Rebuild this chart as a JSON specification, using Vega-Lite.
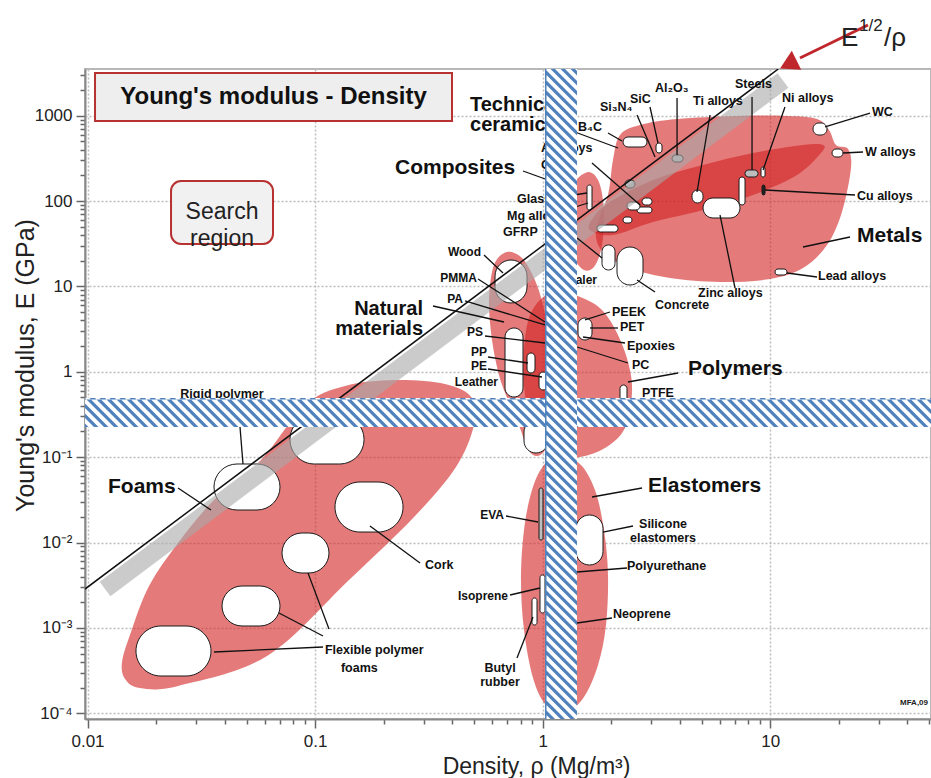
{
"$schema": "https://vega.github.io/schema/vega-lite/v6.json",
"width": 846, "height": 650,
"autosize": {"type": "none"},
"padding": {"left": 85, "top": 69, "right": 0, "bottom": 59},
"background": "white",
"config": {"view": {"stroke": "#b8b8b8", "strokeWidth": 2}, "font": "Liberation Sans", "axis": {"labelFont": "Liberation Sans", "titleFont": "Liberation Sans"}},
"datasets": {
"env": [
{"g":"Foams","i":1,"rho":0.01462,"E":0.0002523},{"g":"Foams","i":2,"rho":0.01701,"E":0.0001977},{"g":"Foams","i":3,"rho":0.02498,"E":0.0002089},{"g":"Foams","i":4,"rho":0.06148,"E":0.000469},{"g":"Foams","i":5,"rho":0.1409,"E":0.00364},{"g":"Foams","i":6,"rho":0.272,"E":0.01991},{"g":"Foams","i":7,"rho":0.4159,"E":0.07674},{"g":"Foams","i":8,"rho":0.4989,"E":0.2381},{"g":"Foams","i":9,"rho":0.4891,"E":0.4933},{"g":"Foams","i":10,"rho":0.3722,"E":0.7198},{"g":"Foams","i":11,"rho":0.2244,"E":0.8014},{"g":"Foams","i":12,"rho":0.1353,"E":0.6819},{"g":"Foams","i":13,"rho":0.0903,"E":0.4086},{"g":"Foams","i":14,"rho":0.05785,"E":0.09265},{"g":"Foams","i":15,"rho":0.03595,"E":0.0315},{"g":"Foams","i":16,"rho":0.02498,"E":0.009876},{"g":"Foams","i":17,"rho":0.01863,"E":0.003097},{"g":"Foams","i":18,"rho":0.01553,"E":0.000895},{"g":"Foams","i":19,"rho":0.01418,"E":0.000399},
{"g":"Natural","i":1,"rho":0.6967,"E":25.31},{"g":"Natural","i":2,"rho":0.8111,"E":21.53},{"g":"Natural","i":3,"rho":0.916,"E":12.55},{"g":"Natural","i":4,"rho":1.003,"E":6.06},{"g":"Natural","i":5,"rho":1.077,"E":2.06},{"g":"Natural","i":6,"rho":1.11,"E":0.6118},{"g":"Natural","i":7,"rho":1.088,"E":0.2081},{"g":"Natural","i":8,"rho":1.024,"E":0.1213},{"g":"Natural","i":9,"rho":0.9346,"E":0.1032},{"g":"Natural","i":10,"rho":0.8531,"E":0.1281},{"g":"Natural","i":11,"rho":0.7946,"E":0.2197},{"g":"Natural","i":12,"rho":0.7037,"E":0.4674},{"g":"Natural","i":13,"rho":0.6427,"E":0.9174},{"g":"Natural","i":14,"rho":0.5987,"E":2.358},{"g":"Natural","i":15,"rho":0.5808,"E":6.934},{"g":"Natural","i":16,"rho":0.6109,"E":17.82},
{"g":"Polymers","i":1,"rho":1.191,"E":8.842},{"g":"Polymers","i":2,"rho":1.534,"E":7.124},{"g":"Polymers","i":3,"rho":1.84,"E":5.155},{"g":"Polymers","i":4,"rho":2.121,"E":2.848},{"g":"Polymers","i":5,"rho":2.371,"E":1.302},{"g":"Polymers","i":6,"rho":2.469,"E":0.5799},{"g":"Polymers","i":7,"rho":2.299,"E":0.2197},{"g":"Polymers","i":8,"rho":1.878,"E":0.1281},{"g":"Polymers","i":9,"rho":1.458,"E":0.1005},{"g":"Polymers","i":10,"rho":1.168,"E":0.106},{"g":"Polymers","i":11,"rho":0.973,"E":0.1589},{"g":"Polymers","i":12,"rho":0.8705,"E":0.3119},{"g":"Polymers","i":13,"rho":0.8277,"E":0.7003},{"g":"Polymers","i":14,"rho":0.8277,"E":1.8},{"g":"Polymers","i":15,"rho":0.8705,"E":4.268},{"g":"Polymers","i":16,"rho":0.9929,"E":7.318},
{"g":"Elastomers","i":1,"rho":1.191,"E":0.1005},{"g":"Elastomers","i":2,"rho":1.458,"E":0.08318},{"g":"Elastomers","i":3,"rho":1.697,"E":0.04124},{"g":"Elastomers","i":4,"rho":1.859,"E":0.01402},{"g":"Elastomers","i":5,"rho":1.936,"E":0.004167},{"g":"Elastomers","i":6,"rho":1.897,"E":0.001082},{"g":"Elastomers","i":7,"rho":1.75,"E":0.0003677},{"g":"Elastomers","i":8,"rho":1.518,"E":0.0001551},{"g":"Elastomers","i":9,"rho":1.253,"E":0.0001008},{"g":"Elastomers","i":10,"rho":1.034,"E":0.000125},{"g":"Elastomers","i":11,"rho":0.9066,"E":0.000259},{"g":"Elastomers","i":12,"rho":0.8277,"E":0.0009452},{"g":"Elastomers","i":13,"rho":0.8027,"E":0.00364},{"g":"Elastomers","i":14,"rho":0.8277,"E":0.01402},{"g":"Elastomers","i":15,"rho":0.8974,"E":0.04124},{"g":"Elastomers","i":16,"rho":1.013,"E":0.08097},
{"g":"Composites","i":1,"rho":1.581,"E":218.9},{"g":"Composites","i":2,"rho":1.75,"E":176.5},{"g":"Composites","i":3,"rho":1.84,"E":102.9},{"g":"Composites","i":4,"rho":1.859,"E":52.44},{"g":"Composites","i":5,"rho":1.804,"E":26.71},{"g":"Composites","i":6,"rho":1.68,"E":16.89},{"g":"Composites","i":7,"rho":1.518,"E":15.58},{"g":"Composites","i":8,"rho":1.372,"E":21.53},{"g":"Composites","i":9,"rho":1.292,"E":40.04},{"g":"Composites","i":10,"rho":1.292,"E":89.93},{"g":"Composites","i":11,"rho":1.372,"E":162.8},
{"g":"Metals","i":1,"rho":2.186,"E":594},{"g":"Metals","i":2,"rho":2.676,"E":778},{"g":"Metals","i":3,"rho":3.892,"E":914.7},{"g":"Metals","i":4,"rho":7.141,"E":991.8},{"g":"Metals","i":5,"rho":11.84,"E":991.8},{"g":"Metals","i":6,"rho":16.04,"E":914.7},{"g":"Metals","i":7,"rho":18.11,"E":679.8},{"g":"Metals","i":8,"rho":19.44,"E":453.6},{"g":"Metals","i":9,"rho":21.95,"E":407.2},{"g":"Metals","i":10,"rho":22.62,"E":243.9},{"g":"Metals","i":11,"rho":20.65,"E":74.45},{"g":"Metals","i":12,"rho":17.75,"E":30.57},{"g":"Metals","i":13,"rho":13.92,"E":16.44},{"g":"Metals","i":14,"rho":9.97,"E":12.22},{"g":"Metals","i":15,"rho":6.012,"E":11.27},{"g":"Metals","i":16,"rho":3.625,"E":12.55},{"g":"Metals","i":17,"rho":2.419,"E":16.44},{"g":"Metals","i":18,"rho":1.84,"E":25.31},{"g":"Metals","i":19,"rho":1.715,"E":45.81},{"g":"Metals","i":20,"rho":1.936,"E":117.8},{"g":"Metals","i":21,"rho":2.036,"E":302.7},
{"g":"MetalAlloys","i":1,"rho":1.614,"E":45.81},{"g":"MetalAlloys","i":2,"rho":2.032,"E":40.04},{"g":"MetalAlloys","i":3,"rho":3.055,"E":56.84},{"g":"MetalAlloys","i":4,"rho":5.061,"E":78.59},{"g":"MetalAlloys","i":5,"rho":8.395,"E":117.8},{"g":"MetalAlloys","i":6,"rho":13.1,"E":202},{"g":"MetalAlloys","i":7,"rho":16.7,"E":365.6},{"g":"MetalAlloys","i":8,"rho":17.04,"E":453.6},{"g":"MetalAlloys","i":9,"rho":13.92,"E":453.6},{"g":"MetalAlloys","i":10,"rho":8.395,"E":365.6},{"g":"MetalAlloys","i":11,"rho":5.061,"E":264.5},{"g":"MetalAlloys","i":12,"rho":3.055,"E":176.5},{"g":"MetalAlloys","i":13,"rho":1.975,"E":97.5},{"g":"MetalAlloys","i":14,"rho":1.663,"E":63.34}
],
"bub": [
{"name":"Flexible foam A","rho":0.01633,"rho2":0.03488,"E":0.0002733,"E2":0.001053,"tone":"open"},
{"name":"Flexible foam B","rho":0.03899,"rho2":0.07011,"E":0.001053,"E2":0.003097,"tone":"open"},
{"name":"Flexible foam C","rho":0.07154,"rho2":0.1151,"E":0.004396,"E2":0.01293,"tone":"open"},
{"name":"Cork","rho":0.1223,"rho2":0.2434,"E":0.01328,"E2":0.05118,"tone":"open"},
{"name":"Rigid foam A","rho":0.03595,"rho2":0.07011,"E":0.02405,"E2":0.08318,"tone":"open"},
{"name":"Rigid foam B","rho":0.07757,"rho2":0.164,"E":0.08318,"E2":0.3119,"tone":"open"},
{"name":"Wood","rho":0.6173,"rho2":0.8532,"E":6.396,"E2":20.4,"tone":"open"},
{"name":"PS","rho":0.683,"rho2":0.8193,"E":0.5068,"E2":3.26,"tone":"open"},
{"name":"PP","rho":0.8532,"rho2":0.925,"E":0.9681,"E2":1.661,"tone":"open"},
{"name":"PE","rho":0.9634,"rho2":1.0445,"E":0.6119,"E2":0.9946,"tone":"open"},
{"name":"Leather","rho":0.8277,"rho2":1.0551,"E":0.1119,"E2":0.2725,"tone":"open"},
{"name":"PET","rho":1.4293,"rho2":1.6467,"E":2.358,"E2":4.268,"tone":"open"},
{"name":"PTFE","rho":2.186,"rho2":2.346,"E":0.4428,"E2":0.7003,"tone":"open"},
{"name":"EVA","rho":0.9634,"rho2":1.0031,"E":0.01071,"E2":0.04355,"tone":"grey"},
{"name":"Silicone","rho":1.4007,"rho2":1.8406,"E":0.005457,"E2":0.02102,"tone":"open"},
{"name":"Isoprene","rho":0.9731,"rho2":1.0236,"E":0.001495,"E2":0.004167,"tone":"open"},
{"name":"Butyl","rho":0.8974,"rho2":0.9441,"E":0.001082,"E2":0.00224,"tone":"open"},
{"name":"B4C","rho":2.2533,"rho2":2.8727,"E":429.7,"E2":562.9,"tone":"open"},
{"name":"SiC","rho":3.1466,"rho2":3.3436,"E":365.6,"E2":478.7,"tone":"open"},
{"name":"Al2O3","rho":3.7008,"rho2":4.1364,"E":286.8,"E2":346.4,"tone":"grey"},
{"name":"Si3N4","rho":2.2994,"rho2":2.5442,"E":142.2,"E2":176.5,"tone":"grey"},
{"name":"Ti","rho":4.5297,"rho2":5.063,"E":94.9,"E2":134.8,"tone":"open"},
{"name":"Zinc","rho":5.063,"rho2":7.3613,"E":63.34,"E2":108.6,"tone":"open"},
{"name":"Cast iron","rho":7.2875,"rho2":7.7431,"E":89.92,"E2":191.3,"tone":"open"},
{"name":"Steels","rho":7.7431,"rho2":8.8316,"E":191.3,"E2":231.1,"tone":"grey"},
{"name":"Ni","rho":9.1039,"rho2":9.4797,"E":191.3,"E2":250.6,"tone":"open"},
{"name":"Cu","rho":9.1965,"rho2":9.4797,"E":117.8,"E2":154.2,"tone":"dark"},
{"name":"WC","rho":15.403,"rho2":17.749,"E":594,"E2":821.1,"tone":"open"},
{"name":"W","rho":18.669,"rho2":20.866,"E":328.2,"E2":407.2,"tone":"open"},
{"name":"Lead","rho":10.487,"rho2":11.837,"E":13.61,"E2":16.0,"tone":"open"},
{"name":"Al alloys","rho":2.7309,"rho2":3.0217,"E":89.92,"E2":108.6,"tone":"open"},
{"name":"CFRP","rho":2.5962,"rho2":3.0217,"E":72.46,"E2":85.19,"tone":"open"},
{"name":"Mg alloys","rho":2.3464,"rho2":2.6762,"E":78.59,"E2":97.5,"tone":"open"},
{"name":"GFRP","rho":2.2533,"rho2":2.4682,"E":55.34,"E2":65.06,"tone":"open"},
{"name":"Glass","rho":1.7322,"rho2":2.1421,"E":43.41,"E2":52.44,"tone":"open"},
{"name":"Stone","rho":1.8221,"rho2":2.0781,"E":15.58,"E2":30.57,"tone":"open"},
{"name":"Concrete","rho":2.1206,"rho2":2.7587,"E":10.39,"E2":28.96,"tone":"open"},
{"name":"Composite fibre","rho":1.5655,"rho2":1.6467,"E":78.59,"E2":154.2,"tone":"open"}
],
"band": [{"rho":0.01194,"E":0.002851},{"rho":11.37,"E":2586}],
"guide": [{"rho":0.00975,"E":0.002852},{"rho":10.84,"E":3525}],
"lead": [
{"rho":0.8193,"E":224.9,"rho2":1.0551,"E2":176.5},
{"rho":0.3296,"E":5.899,"rho2":0.6761,"E2":3.831},
{"rho":0.5522,"E":23.35,"rho2":0.6693,"E2":14.37},
{"rho":0.5197,"E":12.22,"rho2":1.0236,"E2":3.831},
{"rho":0.4557,"E":6.751,"rho2":1.0236,"E2":3.534},
{"rho":0.5578,"E":2.627,"rho2":1.0236,"E2":2.175},
{"rho":0.575,"E":1.491,"rho2":0.8618,"E2":1.268},
{"rho":0.575,"E":1.078,"rho2":0.993,"E2":0.8692},
{"rho":1.9755,"E":5.017,"rho2":1.5341,"E2":4.045},
{"rho":2.1421,"E":3.26,"rho2":1.6137,"E2":3.26},
{"rho":2.2994,"E":2.175,"rho2":1.5034,"E2":2.557},
{"rho":2.3703,"E":1.268,"rho2":1.4149,"E2":1.952},
{"rho":3.9325,"E":0.9681,"rho2":2.3703,"E2":0.7595},
{"rho":22.398,"E":37.94,"rho2":13.92,"E2":28.96},
{"rho":16.039,"E":12.9,"rho2":11.837,"E2":14.37},
{"rho":23.559,"E":117.8,"rho2":9.4797,"E2":134.8},
{"rho":25.544,"E":375.5,"rho2":20.866,"E2":365.6},
{"rho":27.418,"E":1075,"rho2":17.393,"E2":737.4},
{"rho":6.9984,"E":9.585,"rho2":6.0117,"E2":68.66},
{"rho":3.115,"E":8.605,"rho2":2.5962,"E2":11.9},
{"rho":11.6,"E":1264,"rho2":9.29,"E2":231.1},
{"rho":8.3124,"E":1656,"rho2":8.3124,"E2":231.1},
{"rho":5.4334,"E":1019,"rho2":4.7648,"E2":127.7},
{"rho":3.893,"E":1612,"rho2":3.893,"E2":346.4},
{"rho":2.9611,"E":1264,"rho2":3.211,"E2":478.7},
{"rho":2.5962,"E":1019,"rho2":3.115,"E2":328.2},
{"rho":1.9362,"E":627.1,"rho2":2.2306,"E2":505.2},
{"rho":1.6467,"E":279.2,"rho2":2.6762,"E2":89.92},
{"rho":1.0551,"E":843.6,"rho2":2.1421,"E2":418.3},
{"rho":1.034,"E":105.7,"rho2":1.5655,"E2":124.3},
{"rho":1.034,"E":66.83,"rho2":1.5814,"E2":94.9},
{"rho":1.4149,"E":36.93,"rho2":1.8221,"E2":21.53},
{"rho":0.02498,"E":0.04355,"rho2":0.03488,"E2":0.02405},
{"rho":0.1742,"E":0.01562,"rho2":0.2891,"E2":0.005759},
{"rho":0.1151,"E":0.000971,"rho2":0.09307,"E2":0.004396},
{"rho":0.1083,"E":0.0008036,"rho2":0.0694,"E2":0.001495},
{"rho":0.1083,"E":0.0005975,"rho2":0.03595,"E2":0.000522},
{"rho":0.04678,"E":0.2256,"rho2":0.04822,"E2":0.08318},
{"rho":2.7309,"E":0.04355,"rho2":1.6467,"E2":0.03415},
{"rho":2.4933,"E":0.01562,"rho2":1.8406,"E2":0.01328},
{"rho":2.3464,"E":0.005031,"rho2":1.4149,"E2":0.004517},
{"rho":2.016,"E":0.001306,"rho2":1.4149,"E2":0.001142},
{"rho":0.6899,"E":0.02046,"rho2":0.9537,"E2":0.0174},
{"rho":0.7185,"E":0.002429,"rho2":0.9731,"E2":0.002934},
{"rho":0.7711,"E":0.0004442,"rho2":0.9065,"E2":0.001342}
],
"bigL": [
{"label":"Composites","rho":0.2244,"E":243.9},
{"label":"Polymers","rho":4.3503,"E":1.078},
{"label":"Metals","rho":24.041,"E":38.97},
{"label":"Foams","rho":0.012305,"E":0.04473},
{"label":"Elastomers","rho":2.9016,"E":0.04595}
],
"bigL2": [{"label":"Technical\nceramics","rho":0.4793,"E":1352}],
"bigR": [{"label":"Natural\nmaterials","rho":0.298,"E":5.368}],
"smL": [
{"label":"Glass","rho":0.7711,"E":105.7},
{"label":"Mg alloys","rho":0.697,"E":66.83},
{"label":"GFRP","rho":0.6693,"E":43.41},
{"label":"Al alloys","rho":0.983,"E":418.3},
{"label":"CFRP","rho":0.983,"E":264.5},
{"label":"PEEK","rho":2.016,"E":5.017},
{"label":"PET","rho":2.1859,"E":3.348},
{"label":"Epoxies","rho":2.3464,"E":2.005},
{"label":"PC","rho":2.4682,"E":1.201},
{"label":"PTFE","rho":2.7309,"E":0.5645},
{"label":"Concrete","rho":3.115,"E":6.06},
{"label":"Zinc alloys","rho":4.8133,"E":8.377},
{"label":"Lead alloys","rho":16.202,"E":13.25},
{"label":"Cu alloys","rho":24.041,"E":114.6},
{"label":"W alloys","rho":26.066,"E":375.5},
{"label":"WC","rho":27.978,"E":1105},
{"label":"Ni alloys","rho":11.254,"E":1612},
{"label":"Steels","rho":6.9984,"E":2351},
{"label":"Ti alloys","rho":4.5758,"E":1486},
{"label":"Al₂O₃","rho":3.115,"E":2111},
{"label":"SiC","rho":2.4188,"E":1569},
{"label":"Si₃N₄","rho":1.7855,"E":1264},
{"label":"B₄C","rho":1.4293,"E":737.4},
{"label":"Cork","rho":0.3041,"E":0.005457},
{"label":"Flexible polymer","rho":0.1105,"E":0.000551},
{"label":"foams","rho":0.1299,"E":0.0003391},
{"label":"Polyurethane","rho":2.3464,"E":0.005312},
{"label":"Neoprene","rho":2.0365,"E":0.001456}
],
"smR": [
{"label":"Wood","rho":0.5357,"E":25.31},
{"label":"PMMA","rho":0.5145,"E":12.55},
{"label":"PA","rho":0.4465,"E":7.124},
{"label":"PS","rho":0.5466,"E":2.925},
{"label":"PP","rho":0.5692,"E":1.706},
{"label":"PE","rho":0.5692,"E":1.169},
{"label":"Leather","rho":0.6363,"E":0.7595},
{"label":"Sealer","rho":1.7322,"E":11.9},
{"label":"EVA","rho":0.6761,"E":0.02102},
{"label":"Isoprene","rho":0.704,"E":0.002365}
],
"smC": [
{"label":"Rigid polymer","rho":0.03899,"E":0.5495},
{"label":"Butyl\nrubber","rho":0.6493,"E":0.0003346},
{"label":"Silicone\nelastomers","rho":3.3776,"E":0.01671}
],
"hb": [{"rho":0.005,"rho2":100,"E":0.2256,"E2":0.4933}],
"hbs": [{"rho":0.00975,"E":0.4933}],
"vb": [{"rho":1.0236,"rho2":1.4149,"E":0.00003,"E2":10000}],
"vbs": [{"rho":1.0236,"E":3523}],
"tbox": [{"rho":0.01079,"rho2":0.3995,"E":866.7,"E2":3163}],
"ttext": [{"label":"Young's modulus - Density","rho":0.06568,"E":1656}],
"sbox": [{"rho":0.02328,"rho2":0.06531,"E":31.41,"E2":171.8}],
"stext": [{"label":"Search\nregion","rho":0.03899,"E":73.45}],
"arrow": [{"rho":26.87,"E":11540,"rho2":13.5,"E2":4740}],
"head": [{"rho":12.33,"E":4142}],
"eBig": [{"label":"E","rho":20.45,"E":6551},{"label":"/ρ","rho":31.59,"E":6551}],
"eHalf": [{"label":"1/2","rho":24.53,"E":9818}],
"mfa": [{"label":"MFA,09","rho":37.14,"E":0.0001319}]
},
"encoding": {
"x": {"field": "rho", "type": "quantitative",
 "scale": {"type": "log", "domain": [0.00975, 50.82], "nice": false},
 "axis": {
  "values": [0.01,0.02,0.03,0.04,0.05,0.06,0.07,0.08,0.09,0.1,0.2,0.3,0.4,0.5,0.6,0.7,0.8,0.9,1,2,3,4,5,6,7,8,9,10,20,30,40,50],
  "labelExpr": "abs(log(datum.value)/LN10 - round(log(datum.value)/LN10)) > 0.01 ? '' : datum.value >= 1 ? format(datum.value, 'd') : format(datum.value, '.2~f')",
  "labelOverlap": false, "labelFlush": false, "labelBound": false,
  "labelFontSize": 17, "labelColor": "#222", "labelPadding": 5,
  "tickSize": {"condition": {"test": "abs(log(datum.value)/LN10 - round(log(datum.value)/LN10)) < 0.01", "value": 9}, "value": 5},
  "tickColor": "#666", "tickWidth": 1.5,
  "domainColor": "#888", "domainWidth": 2,
  "grid": true, "gridColor": "#bdbdbd", "gridDash": [2, 2], "gridWidth": 1.5,
  "gridOpacity": {"condition": {"test": "abs(log(datum.value)/LN10 - round(log(datum.value)/LN10)) < 0.01", "value": 1}, "value": 0},
  "title": "Density, ρ  (Mg/m³)", "titleFontSize": 23, "titleFontWeight": "normal", "titleColor": "#222",
  "titleX": 451, "titleY": 54, "titleAlign": "center", "titleBaseline": "alphabetic", "titleAngle": 0
 }},
"y": {"field": "E", "type": "quantitative",
 "scale": {"type": "log", "domain": [0.0000857, 3523], "nice": false},
 "axis": {
  "values": [0.0001,0.0002,0.0003,0.0004,0.0005,0.0006,0.0007,0.0008,0.0009,0.001,0.002,0.003,0.004,0.005,0.006,0.007,0.008,0.009,0.01,0.02,0.03,0.04,0.05,0.06,0.07,0.08,0.09,0.1,0.2,0.3,0.4,0.5,0.6,0.7,0.8,0.9,1,2,3,4,5,6,7,8,9,10,20,30,40,50,60,70,80,90,100,200,300,400,500,600,700,800,900,1000,2000,3000],
  "labelExpr": "abs(log(datum.value)/LN10 - round(log(datum.value)/LN10)) > 0.01 ? '' : datum.value >= 1 ? format(datum.value, 'd') : datum.value > 0.05 ? '10⁻¹' : datum.value > 0.005 ? '10⁻²' : datum.value > 0.0005 ? '10⁻³' : '10⁻⁴'",
  "labelOverlap": false, "labelFlush": false, "labelBound": false,
  "labelFontSize": 17, "labelColor": "#222", "labelPadding": 4,
  "tickSize": {"condition": {"test": "abs(log(datum.value)/LN10 - round(log(datum.value)/LN10)) < 0.01", "value": 9}, "value": 5},
  "tickColor": "#666", "tickWidth": 1.5,
  "domainColor": "#888", "domainWidth": 2,
  "grid": true, "gridColor": "#bdbdbd", "gridDash": [2, 2], "gridWidth": 1.5,
  "gridOpacity": {"condition": {"test": "abs(log(datum.value)/LN10 - round(log(datum.value)/LN10)) < 0.01", "value": 1}, "value": 0},
  "title": "Young's modulus, E (GPa)", "titleFontSize": 25, "titleFontWeight": "normal", "titleColor": "#222",
  "titleX": -60, "titleY": 296, "titleAlign": "center", "titleBaseline": "middle", "titleAngle": 270
 }}
},
"layer": [
{"data": {"name": "env"}, "mark": {"type": "line", "interpolate": "cardinal-closed", "fill": "#d22121", "fillOpacity": 0.6, "stroke": "#d22121", "strokeWidth": 0, "clip": true},
 "encoding": {"detail": {"field": "g"}, "order": {"field": "i", "type": "quantitative"}}},
{"data": {"name": "bub"}, "mark": {"type": "rect", "cornerRadius": 100, "stroke": "#1a1a1a", "strokeWidth": 1, "clip": true},
 "encoding": {"x2": {"field": "rho2"}, "y2": {"field": "E2"},
  "fill": {"field": "tone", "type": "nominal", "scale": {"domain": ["open", "grey", "dark"], "range": ["#ffffff", "#bdbdbd", "#222222"]}, "legend": null}}},
{"data": {"name": "band"}, "mark": {"type": "line", "color": "#a8a8a8", "strokeWidth": 18, "strokeCap": "butt", "opacity": 0.6, "clip": true}},
{"data": {"name": "guide"}, "mark": {"type": "line", "color": "#111111", "strokeWidth": 1.5, "clip": true}},
{"data": {"name": "lead"}, "mark": {"type": "rule", "color": "#111111", "strokeWidth": 1.3, "clip": true},
 "encoding": {"x2": {"field": "rho2"}, "y2": {"field": "E2"}}},
{"data": {"name": "bigL"}, "mark": {"type": "text", "align": "left", "baseline": "middle", "fontSize": 21, "fontWeight": "bold", "color": "#111111", "clip": true},
 "encoding": {"text": {"field": "label"}}},
{"data": {"name": "bigL2"}, "mark": {"type": "text", "align": "left", "baseline": "middle", "fontSize": 20, "fontWeight": "bold", "lineBreak": "\n", "lineHeight": 20, "color": "#111111", "clip": true},
 "encoding": {"text": {"field": "label"}}},
{"data": {"name": "bigR"}, "mark": {"type": "text", "align": "right", "baseline": "middle", "fontSize": 20, "fontWeight": "bold", "lineBreak": "\n", "lineHeight": 20, "color": "#111111", "clip": true},
 "encoding": {"text": {"field": "label"}}},
{"data": {"name": "smL"}, "mark": {"type": "text", "align": "left", "baseline": "middle", "fontSize": 12.5, "fontWeight": "bold", "color": "#111111", "clip": true},
 "encoding": {"text": {"field": "label"}}},
{"data": {"name": "smR"}, "mark": {"type": "text", "align": "right", "baseline": "middle", "fontSize": 12, "fontWeight": "bold", "color": "#111111", "clip": true},
 "encoding": {"text": {"field": "label"}}},
{"data": {"name": "smC"}, "mark": {"type": "text", "align": "center", "baseline": "middle", "fontSize": 12.5, "fontWeight": "bold", "lineBreak": "\n", "lineHeight": 14, "color": "#111111", "clip": true},
 "encoding": {"text": {"field": "label"}}},
{"data": {"name": "hb"}, "mark": {"type": "rect", "fill": "white", "clip": true},
 "encoding": {"x2": {"field": "rho2"}, "y2": {"field": "E2"}}},
{"data": {"name": "hbs"}, "mark": {"type": "point", "filled": true, "color": "#4f81bd", "opacity": 1, "strokeWidth": 0, "size": 4, "clip": true,
 "shape": "M0,0h846v1.5h-846zM-30,0l29,29h4.5l-29,-29zM-20,0l29,29h4.5l-29,-29zM-10,0l29,29h4.5l-29,-29zM0,0l29,29h4.5l-29,-29zM10,0l29,29h4.5l-29,-29zM20,0l29,29h4.5l-29,-29zM30,0l29,29h4.5l-29,-29zM40,0l29,29h4.5l-29,-29zM50,0l29,29h4.5l-29,-29zM60,0l29,29h4.5l-29,-29zM70,0l29,29h4.5l-29,-29zM80,0l29,29h4.5l-29,-29zM90,0l29,29h4.5l-29,-29zM100,0l29,29h4.5l-29,-29zM110,0l29,29h4.5l-29,-29zM120,0l29,29h4.5l-29,-29zM130,0l29,29h4.5l-29,-29zM140,0l29,29h4.5l-29,-29zM150,0l29,29h4.5l-29,-29zM160,0l29,29h4.5l-29,-29zM170,0l29,29h4.5l-29,-29zM180,0l29,29h4.5l-29,-29zM190,0l29,29h4.5l-29,-29zM200,0l29,29h4.5l-29,-29zM210,0l29,29h4.5l-29,-29zM220,0l29,29h4.5l-29,-29zM230,0l29,29h4.5l-29,-29zM240,0l29,29h4.5l-29,-29zM250,0l29,29h4.5l-29,-29zM260,0l29,29h4.5l-29,-29zM270,0l29,29h4.5l-29,-29zM280,0l29,29h4.5l-29,-29zM290,0l29,29h4.5l-29,-29zM300,0l29,29h4.5l-29,-29zM310,0l29,29h4.5l-29,-29zM320,0l29,29h4.5l-29,-29zM330,0l29,29h4.5l-29,-29zM340,0l29,29h4.5l-29,-29zM350,0l29,29h4.5l-29,-29zM360,0l29,29h4.5l-29,-29zM370,0l29,29h4.5l-29,-29zM380,0l29,29h4.5l-29,-29zM390,0l29,29h4.5l-29,-29zM400,0l29,29h4.5l-29,-29zM410,0l29,29h4.5l-29,-29zM420,0l29,29h4.5l-29,-29zM430,0l29,29h4.5l-29,-29zM440,0l29,29h4.5l-29,-29zM450,0l29,29h4.5l-29,-29zM460,0l29,29h4.5l-29,-29zM470,0l29,29h4.5l-29,-29zM480,0l29,29h4.5l-29,-29zM490,0l29,29h4.5l-29,-29zM500,0l29,29h4.5l-29,-29zM510,0l29,29h4.5l-29,-29zM520,0l29,29h4.5l-29,-29zM530,0l29,29h4.5l-29,-29zM540,0l29,29h4.5l-29,-29zM550,0l29,29h4.5l-29,-29zM560,0l29,29h4.5l-29,-29zM570,0l29,29h4.5l-29,-29zM580,0l29,29h4.5l-29,-29zM590,0l29,29h4.5l-29,-29zM600,0l29,29h4.5l-29,-29zM610,0l29,29h4.5l-29,-29zM620,0l29,29h4.5l-29,-29zM630,0l29,29h4.5l-29,-29zM640,0l29,29h4.5l-29,-29zM650,0l29,29h4.5l-29,-29zM660,0l29,29h4.5l-29,-29zM670,0l29,29h4.5l-29,-29zM680,0l29,29h4.5l-29,-29zM690,0l29,29h4.5l-29,-29zM700,0l29,29h4.5l-29,-29zM710,0l29,29h4.5l-29,-29zM720,0l29,29h4.5l-29,-29zM730,0l29,29h4.5l-29,-29zM740,0l29,29h4.5l-29,-29zM750,0l29,29h4.5l-29,-29zM760,0l29,29h4.5l-29,-29zM770,0l29,29h4.5l-29,-29zM780,0l29,29h4.5l-29,-29zM790,0l29,29h4.5l-29,-29zM800,0l29,29h4.5l-29,-29zM810,0l29,29h4.5l-29,-29zM820,0l29,29h4.5l-29,-29zM830,0l29,29h4.5l-29,-29zM840,0l29,29h4.5l-29,-29zM850,0l29,29h4.5l-29,-29z"}},
{"data": {"name": "vb"}, "mark": {"type": "rect", "fill": "white", "clip": true},
 "encoding": {"x2": {"field": "rho2"}, "y2": {"field": "E2"}}},
{"data": {"name": "vbs"}, "mark": {"type": "point", "filled": true, "color": "#4f81bd", "opacity": 1, "strokeWidth": 0, "size": 4, "clip": true,
 "shape": "M0,-5h1.5v665h-1.5zM0,-40l32,32v4.5l-32,-32zM0,-30l32,32v4.5l-32,-32zM0,-20l32,32v4.5l-32,-32zM0,-10l32,32v4.5l-32,-32zM0,0l32,32v4.5l-32,-32zM0,10l32,32v4.5l-32,-32zM0,20l32,32v4.5l-32,-32zM0,30l32,32v4.5l-32,-32zM0,40l32,32v4.5l-32,-32zM0,50l32,32v4.5l-32,-32zM0,60l32,32v4.5l-32,-32zM0,70l32,32v4.5l-32,-32zM0,80l32,32v4.5l-32,-32zM0,90l32,32v4.5l-32,-32zM0,100l32,32v4.5l-32,-32zM0,110l32,32v4.5l-32,-32zM0,120l32,32v4.5l-32,-32zM0,130l32,32v4.5l-32,-32zM0,140l32,32v4.5l-32,-32zM0,150l32,32v4.5l-32,-32zM0,160l32,32v4.5l-32,-32zM0,170l32,32v4.5l-32,-32zM0,180l32,32v4.5l-32,-32zM0,190l32,32v4.5l-32,-32zM0,200l32,32v4.5l-32,-32zM0,210l32,32v4.5l-32,-32zM0,220l32,32v4.5l-32,-32zM0,230l32,32v4.5l-32,-32zM0,240l32,32v4.5l-32,-32zM0,250l32,32v4.5l-32,-32zM0,260l32,32v4.5l-32,-32zM0,270l32,32v4.5l-32,-32zM0,280l32,32v4.5l-32,-32zM0,290l32,32v4.5l-32,-32zM0,300l32,32v4.5l-32,-32zM0,310l32,32v4.5l-32,-32zM0,320l32,32v4.5l-32,-32zM0,330l32,32v4.5l-32,-32zM0,340l32,32v4.5l-32,-32zM0,350l32,32v4.5l-32,-32zM0,360l32,32v4.5l-32,-32zM0,370l32,32v4.5l-32,-32zM0,380l32,32v4.5l-32,-32zM0,390l32,32v4.5l-32,-32zM0,400l32,32v4.5l-32,-32zM0,410l32,32v4.5l-32,-32zM0,420l32,32v4.5l-32,-32zM0,430l32,32v4.5l-32,-32zM0,440l32,32v4.5l-32,-32zM0,450l32,32v4.5l-32,-32zM0,460l32,32v4.5l-32,-32zM0,470l32,32v4.5l-32,-32zM0,480l32,32v4.5l-32,-32zM0,490l32,32v4.5l-32,-32zM0,500l32,32v4.5l-32,-32zM0,510l32,32v4.5l-32,-32zM0,520l32,32v4.5l-32,-32zM0,530l32,32v4.5l-32,-32zM0,540l32,32v4.5l-32,-32zM0,550l32,32v4.5l-32,-32zM0,560l32,32v4.5l-32,-32zM0,570l32,32v4.5l-32,-32zM0,580l32,32v4.5l-32,-32zM0,590l32,32v4.5l-32,-32zM0,600l32,32v4.5l-32,-32zM0,610l32,32v4.5l-32,-32zM0,620l32,32v4.5l-32,-32zM0,630l32,32v4.5l-32,-32zM0,640l32,32v4.5l-32,-32zM0,650l32,32v4.5l-32,-32z"}},
{"data": {"name": "tbox"}, "mark": {"type": "rect", "fill": "#eeeeee", "stroke": "#b83232", "strokeWidth": 2},
 "encoding": {"x2": {"field": "rho2"}, "y2": {"field": "E2"}}},
{"data": {"name": "ttext"}, "mark": {"type": "text", "align": "center", "baseline": "middle", "fontSize": 24, "fontWeight": "bold", "color": "#111111"},
 "encoding": {"text": {"field": "label"}}},
{"data": {"name": "sbox"}, "mark": {"type": "rect", "fill": "#f1f1f1", "stroke": "#b83232", "strokeWidth": 2, "cornerRadius": 10},
 "encoding": {"x2": {"field": "rho2"}, "y2": {"field": "E2"}}},
{"data": {"name": "stext"}, "mark": {"type": "text", "align": "center", "baseline": "middle", "fontSize": 23, "lineBreak": "\n", "lineHeight": 27, "color": "#222222"},
 "encoding": {"text": {"field": "label"}}},
{"data": {"name": "arrow"}, "mark": {"type": "rule", "color": "#c0272d", "strokeWidth": 3, "clip": false},
 "encoding": {"x2": {"field": "rho2"}, "y2": {"field": "E2"}}},
{"data": {"name": "head"}, "mark": {"type": "point", "shape": "triangle", "angle": 243.7, "size": 450, "filled": true, "color": "#c0272d", "opacity": 1, "strokeWidth": 0, "clip": false}},
{"data": {"name": "eBig"}, "mark": {"type": "text", "align": "left", "baseline": "alphabetic", "fontSize": 26, "color": "#222222", "clip": false},
 "encoding": {"text": {"field": "label"}}},
{"data": {"name": "eHalf"}, "mark": {"type": "text", "align": "left", "baseline": "alphabetic", "fontSize": 17, "color": "#222222", "clip": false},
 "encoding": {"text": {"field": "label"}}},
{"data": {"name": "mfa"}, "mark": {"type": "text", "align": "left", "baseline": "middle", "fontSize": 8, "fontWeight": "bold", "color": "#222222", "clip": true},
 "encoding": {"text": {"field": "label"}}}
]
}
